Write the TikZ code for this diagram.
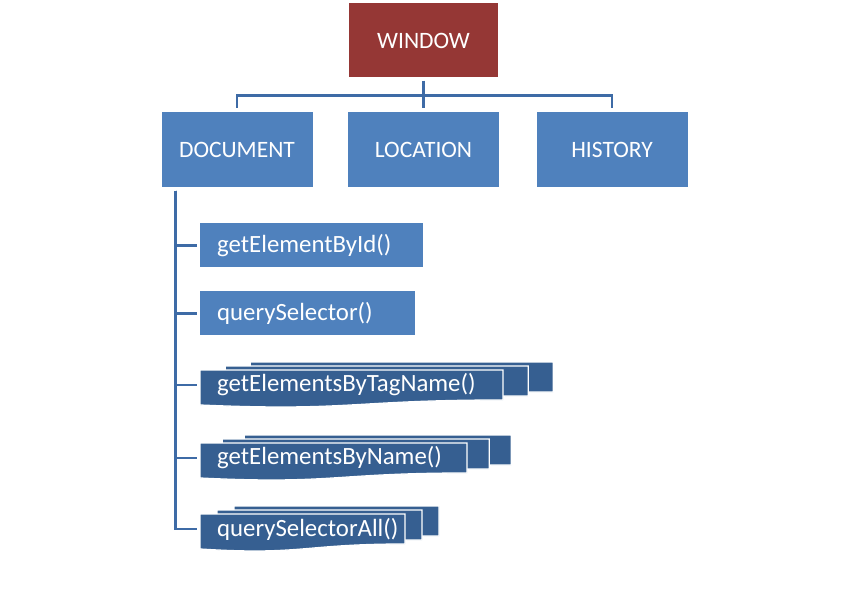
\documentclass[tikz,border=0pt]{standalone}
\usepackage{fontspec}
\setmainfont{Carlito}
\usetikzlibrary{calc}

\definecolor{winred}{RGB}{149,55,53}
\definecolor{objblue}{RGB}{79,129,189}
\definecolor{linkblue}{RGB}{62,107,166}
\definecolor{listblue}{RGB}{54,95,145}

% stack of three pages, front one carries the text node
\newcommand{\docstack}[5]{%
  \foreach \k in {2,1,0}
    \draw[sheet] ({#2+\k*0.083*#4},{#3-4*\k}) -- ++(#4,0) -- ++(0,30)
      .. controls +(-#4/2,0) and +(#4/2,6.5) .. ++(-#4,5) -- cycle;
  \node[methodtext, anchor=west] (#1) at (#2,#3+15) {#5};
}

\begin{document}
\begin{tikzpicture}[
    x=1pt, y=-1pt,
    font=\fontsize{23.5}{28}\selectfont,
    box/.style={rectangle, text=white, minimum height=74, inner sep=0},
    topbox/.style={box, fill=winred, minimum width=149},
    objbox/.style={box, fill=objblue, minimum width=151},
    methodbox/.style={rectangle, fill=objblue, text=white, anchor=north west, minimum height=44, inner xsep=17, inner ysep=0, align=left, font=\fontsize{24.8}{30}\selectfont},
    methodtext/.style={rectangle, text=white, inner xsep=17, inner ysep=0, font=\fontsize{24.8}{30}\selectfont},
    sheet/.style={fill=listblue, draw=white, line width=1.3},
    link/.style={draw=linkblue, line width=2.6}
  ]
  \useasboundingbox (0,0) rectangle (848,591);

  \node[topbox] (window) at (423.5,40.5) {WINDOW};
  \node[objbox] (document) at (237,149.5) {DOCUMENT};
  \node[objbox] (location) at (423.5,149.5) {LOCATION};
  \node[objbox] (history) at (612,149.5) {HISTORY};

  \node[methodbox, text width=189] (byid) at (200,223) {getElementById()};
  \node[methodbox, text width=181] (qs) at (200,291) {querySelector()};
  \docstack{bytag}{200}{370}{303}{getElementsByTagName()}
  \docstack{byname}{200}{443}{267}{getElementsByName()}
  \docstack{qsall}{200}{514}{205}{querySelectorAll()}

  % window to its children
  \coordinate (bar) at ($(window.south)+(0,18)$);
  \draw[link] ($(window.south)+(0,3)$) -- (bar);
  \foreach \obj in {document,location,history}
    \draw[link] (bar) -| ($(\obj.north)+(0,-4)$);

  % document to its methods
  \coordinate (trunk) at ($(document.south west)+(14,4)$);
  \foreach \m in {byid,qs,bytag,byname,qsall}
    \draw[link] (trunk) |- ($(\m.west)+(-3,0)$);
\end{tikzpicture}
\end{document}
